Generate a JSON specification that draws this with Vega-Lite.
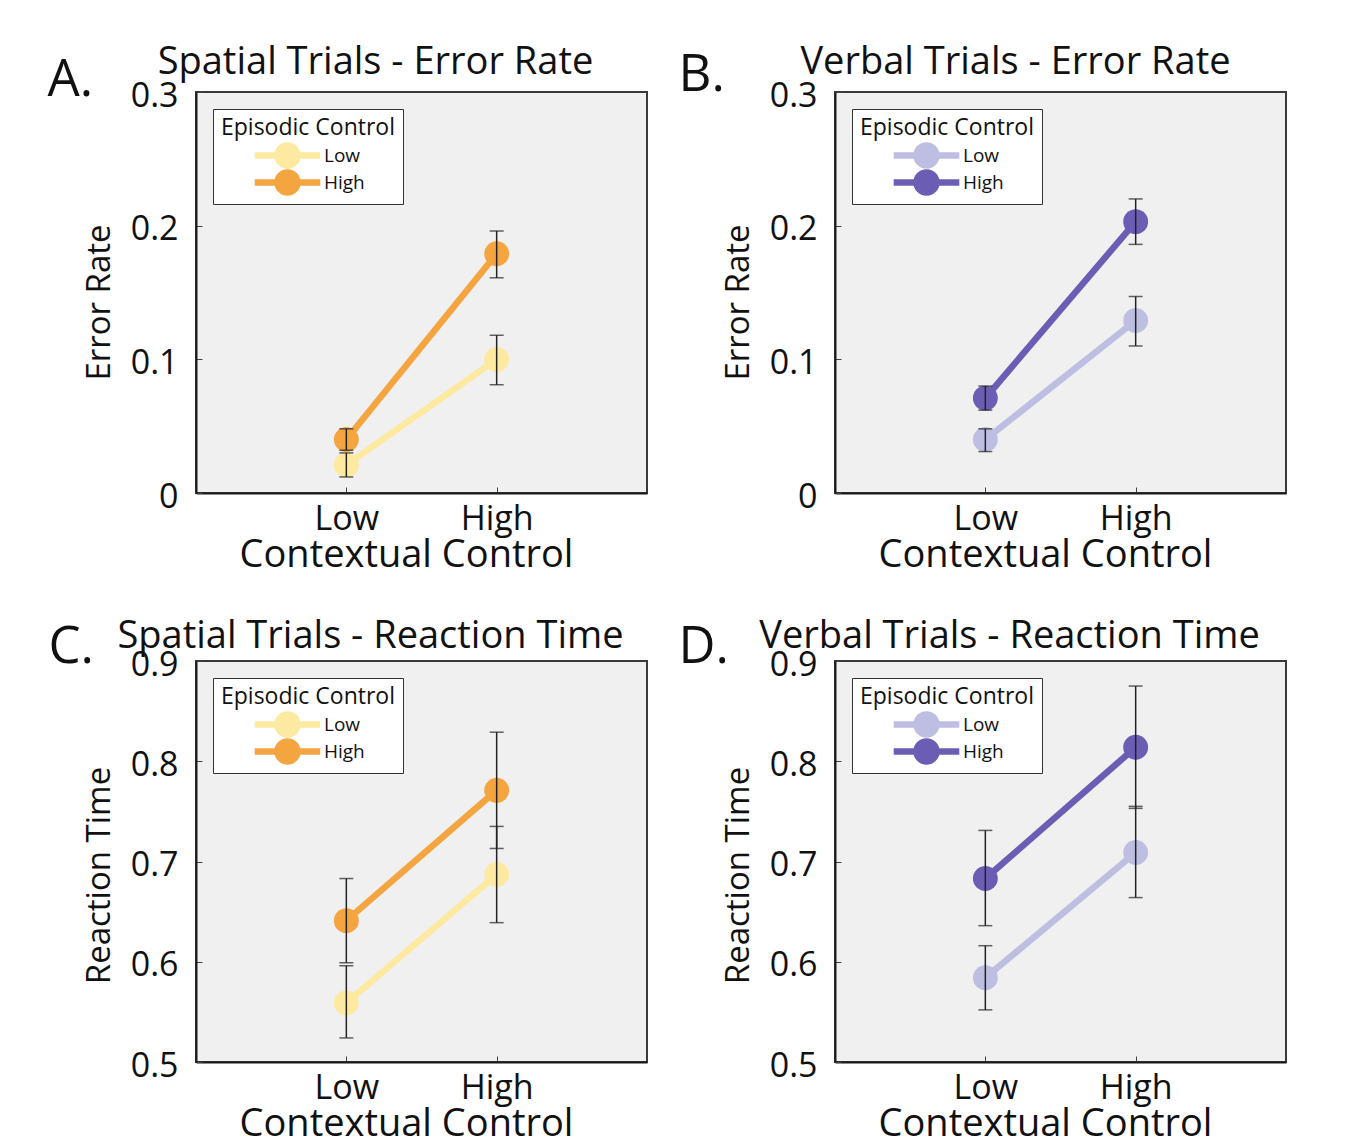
{
  "$schema": "https://vega.github.io/schema/vega-lite/v6.json",
  "background": "white",
  "padding": {"left": 46, "top": 42, "right": 10, "bottom": 5},
  "data": {"values": [
    {"panel": "A", "ctx": "Low", "ep": "Low", "mean": 0.021, "lo": 0.012, "hi": 0.030},
    {"panel": "A", "ctx": "High", "ep": "Low", "mean": 0.100, "lo": 0.081, "hi": 0.118},
    {"panel": "A", "ctx": "Low", "ep": "High", "mean": 0.040, "lo": 0.032, "hi": 0.048},
    {"panel": "A", "ctx": "High", "ep": "High", "mean": 0.179, "lo": 0.161, "hi": 0.196},
    {"panel": "B", "ctx": "Low", "ep": "Low", "mean": 0.040, "lo": 0.031, "hi": 0.048},
    {"panel": "B", "ctx": "High", "ep": "Low", "mean": 0.129, "lo": 0.110, "hi": 0.147},
    {"panel": "B", "ctx": "Low", "ep": "High", "mean": 0.071, "lo": 0.062, "hi": 0.080},
    {"panel": "B", "ctx": "High", "ep": "High", "mean": 0.203, "lo": 0.186, "hi": 0.220},
    {"panel": "C", "ctx": "Low", "ep": "Low", "mean": 0.559, "lo": 0.524, "hi": 0.596},
    {"panel": "C", "ctx": "High", "ep": "Low", "mean": 0.687, "lo": 0.639, "hi": 0.735},
    {"panel": "C", "ctx": "Low", "ep": "High", "mean": 0.641, "lo": 0.599, "hi": 0.683},
    {"panel": "C", "ctx": "High", "ep": "High", "mean": 0.771, "lo": 0.713, "hi": 0.829},
    {"panel": "D", "ctx": "Low", "ep": "Low", "mean": 0.584, "lo": 0.552, "hi": 0.616},
    {"panel": "D", "ctx": "High", "ep": "Low", "mean": 0.709, "lo": 0.664, "hi": 0.755},
    {"panel": "D", "ctx": "Low", "ep": "High", "mean": 0.683, "lo": 0.636, "hi": 0.731},
    {"panel": "D", "ctx": "High", "ep": "High", "mean": 0.814, "lo": 0.753, "hi": 0.875}
  ]},
  "columns": 2,
  "spacing": {"row": 168, "column": 188},
  "bounds": "flush",
  "resolve": {"scale": {"x": "independent", "y": "independent", "color": "independent"}, "legend": {"color": "independent"}},
  "concat": [
    {
      "width": 451, "height": 401,
      "transform": [{"filter": "datum.panel == 'A'"}],
      "resolve": {"axis": {"x": "independent"}},
      "layer": [
        {"mark": {"type": "line", "strokeWidth": 6.5},
         "encoding": {
           "x": {"field": "ctx", "type": "nominal", "sort": ["Low", "High"], "scale": {"type": "point", "padding": 1, "domain": ["Low", "High"]},
                 "axis": {"orient": "bottom", "title": "Contextual Control", "labelAngle": 0, "tickSize": -6, "labelPadding": 15, "titlePadding": 0, "titleFontSize": 38, "titleX": 210}},
           "y": {"field": "mean", "type": "quantitative", "scale": {"domain": [0, 0.3], "nice": false, "zero": false},
                 "axis": {"title": "Error Rate", "values": [0, 0.1, 0.2, 0.3], "labelExpr": "datum.value == 0 ? '0' : format(datum.value, '.1f')", "tickSize": -6, "labelPadding": 24, "labelOffset": 4, "titlePadding": 14, "titleFontSize": 33, "titleY": 210, "labelFlush": false}},
           "color": {"field": "ep", "type": "nominal", "scale": {"domain": ["Low", "High"], "range": ["#fde9a0", "#f5a540"]},
                     "legend": {"title": "Episodic Control", "symbolType": "M-4.1,-0.4H-1.5V0.4H-4.1Z M1.5,-0.4H4.1V0.4H1.5Z M-1.65,0A1.65,1.65 0 1,1 1.65,0A1.65,1.65 0 1,1 -1.65,0Z", "symbolSize": 256}}
         }},
        {"mark": {"type": "circle", "size": 620, "opacity": 1},
         "encoding": {
           "x": {"field": "ctx", "type": "nominal", "sort": ["Low", "High"], "scale": {"type": "point", "padding": 1, "domain": ["Low", "High"]},
                 "axis": {"orient": "top", "title": "Spatial Trials - Error Rate", "labels": false, "ticks": false, "domain": false, "titleFontSize": 38, "titleX": 179, "titleY": -19, "titleAlign": "center", "titleBaseline": "alphabetic"}},
           "y": {"field": "mean", "type": "quantitative", "scale": {"domain": [0, 0.3], "nice": false, "zero": false},
                 "axis": {"title": "Error Rate", "values": [0, 0.1, 0.2, 0.3], "labelExpr": "datum.value == 0 ? '0' : format(datum.value, '.1f')", "tickSize": -6, "labelPadding": 24, "labelOffset": 4, "titlePadding": 14, "titleFontSize": 33, "titleY": 210, "labelFlush": false}},
           "color": {"field": "ep", "type": "nominal", "scale": {"domain": ["Low", "High"], "range": ["#fde9a0", "#f5a540"]},
                     "legend": {"title": "Episodic Control", "symbolType": "M-4.1,-0.4H-1.5V0.4H-4.1Z M1.5,-0.4H4.1V0.4H1.5Z M-1.65,0A1.65,1.65 0 1,1 1.65,0A1.65,1.65 0 1,1 -1.65,0Z", "symbolSize": 256}}
         }},
        {"mark": {"type": "errorbar", "ticks": true, "size": 14, "thickness": 1.5, "color": "#222"},
         "encoding": {
           "x": {"field": "ctx", "type": "nominal", "sort": ["Low", "High"], "scale": {"type": "point", "padding": 1, "domain": ["Low", "High"]},
                 "axis": {"orient": "top", "title": "A.", "labels": false, "ticks": false, "domain": false, "titleFontSize": 51, "titleX": -149, "titleY": 3, "titleAlign": "left", "titleBaseline": "alphabetic"}},
           "y": {"field": "lo", "type": "quantitative", "scale": {"domain": [0, 0.3], "nice": false, "zero": false},
                 "axis": {"title": "Error Rate", "values": [0, 0.1, 0.2, 0.3], "labelExpr": "datum.value == 0 ? '0' : format(datum.value, '.1f')", "tickSize": -6, "labelPadding": 24, "labelOffset": 4, "titlePadding": 14, "titleFontSize": 33, "titleY": 210, "labelFlush": false}},
           "y2": {"field": "hi"}
         }}
      ]
    },
    {
      "width": 451, "height": 401,
      "transform": [{"filter": "datum.panel == 'B'"}],
      "resolve": {"axis": {"x": "independent"}},
      "layer": [
        {"mark": {"type": "line", "strokeWidth": 6.5},
         "encoding": {
           "x": {"field": "ctx", "type": "nominal", "sort": ["Low", "High"], "scale": {"type": "point", "padding": 1, "domain": ["Low", "High"]},
                 "axis": {"orient": "bottom", "title": "Contextual Control", "labelAngle": 0, "tickSize": -6, "labelPadding": 15, "titlePadding": 0, "titleFontSize": 38, "titleX": 210}},
           "y": {"field": "mean", "type": "quantitative", "scale": {"domain": [0, 0.3], "nice": false, "zero": false},
                 "axis": {"title": "Error Rate", "values": [0, 0.1, 0.2, 0.3], "labelExpr": "datum.value == 0 ? '0' : format(datum.value, '.1f')", "tickSize": -6, "labelPadding": 24, "labelOffset": 4, "titlePadding": 14, "titleFontSize": 33, "titleY": 210, "labelFlush": false}},
           "color": {"field": "ep", "type": "nominal", "scale": {"domain": ["Low", "High"], "range": ["#bebee2", "#6b5db3"]},
                     "legend": {"title": "Episodic Control", "symbolType": "M-4.1,-0.4H-1.5V0.4H-4.1Z M1.5,-0.4H4.1V0.4H1.5Z M-1.65,0A1.65,1.65 0 1,1 1.65,0A1.65,1.65 0 1,1 -1.65,0Z", "symbolSize": 256}}
         }},
        {"mark": {"type": "circle", "size": 620, "opacity": 1},
         "encoding": {
           "x": {"field": "ctx", "type": "nominal", "sort": ["Low", "High"], "scale": {"type": "point", "padding": 1, "domain": ["Low", "High"]},
                 "axis": {"orient": "top", "title": "Verbal Trials - Error Rate", "labels": false, "ticks": false, "domain": false, "titleFontSize": 38, "titleX": 180, "titleY": -19, "titleAlign": "center", "titleBaseline": "alphabetic"}},
           "y": {"field": "mean", "type": "quantitative", "scale": {"domain": [0, 0.3], "nice": false, "zero": false},
                 "axis": {"title": "Error Rate", "values": [0, 0.1, 0.2, 0.3], "labelExpr": "datum.value == 0 ? '0' : format(datum.value, '.1f')", "tickSize": -6, "labelPadding": 24, "labelOffset": 4, "titlePadding": 14, "titleFontSize": 33, "titleY": 210, "labelFlush": false}},
           "color": {"field": "ep", "type": "nominal", "scale": {"domain": ["Low", "High"], "range": ["#bebee2", "#6b5db3"]},
                     "legend": {"title": "Episodic Control", "symbolType": "M-4.1,-0.4H-1.5V0.4H-4.1Z M1.5,-0.4H4.1V0.4H1.5Z M-1.65,0A1.65,1.65 0 1,1 1.65,0A1.65,1.65 0 1,1 -1.65,0Z", "symbolSize": 256}}
         }},
        {"mark": {"type": "errorbar", "ticks": true, "size": 14, "thickness": 1.5, "color": "#222"},
         "encoding": {
           "x": {"field": "ctx", "type": "nominal", "sort": ["Low", "High"], "scale": {"type": "point", "padding": 1, "domain": ["Low", "High"]},
                 "axis": {"orient": "top", "title": "B.", "labels": false, "ticks": false, "domain": false, "titleFontSize": 51, "titleX": -157, "titleY": -2, "titleAlign": "left", "titleBaseline": "alphabetic"}},
           "y": {"field": "lo", "type": "quantitative", "scale": {"domain": [0, 0.3], "nice": false, "zero": false},
                 "axis": {"title": "Error Rate", "values": [0, 0.1, 0.2, 0.3], "labelExpr": "datum.value == 0 ? '0' : format(datum.value, '.1f')", "tickSize": -6, "labelPadding": 24, "labelOffset": 4, "titlePadding": 14, "titleFontSize": 33, "titleY": 210, "labelFlush": false}},
           "y2": {"field": "hi"}
         }}
      ]
    },
    {
      "width": 451, "height": 401,
      "transform": [{"filter": "datum.panel == 'C'"}],
      "resolve": {"axis": {"x": "independent"}},
      "layer": [
        {"mark": {"type": "line", "strokeWidth": 6.5},
         "encoding": {
           "x": {"field": "ctx", "type": "nominal", "sort": ["Low", "High"], "scale": {"type": "point", "padding": 1, "domain": ["Low", "High"]},
                 "axis": {"orient": "bottom", "title": "Contextual Control", "labelAngle": 0, "tickSize": -6, "labelPadding": 15, "titlePadding": 0, "titleFontSize": 38, "titleX": 210}},
           "y": {"field": "mean", "type": "quantitative", "scale": {"domain": [0.5, 0.9], "nice": false, "zero": false},
                 "axis": {"title": "Reaction Time", "values": [0.5, 0.6, 0.7, 0.8, 0.9], "labelExpr": "format(datum.value, '.1f')", "tickSize": -6, "labelPadding": 24, "labelOffset": 4, "titlePadding": 14, "titleFontSize": 33, "titleY": 214, "labelFlush": false}},
           "color": {"field": "ep", "type": "nominal", "scale": {"domain": ["Low", "High"], "range": ["#fde9a0", "#f5a540"]},
                     "legend": {"title": "Episodic Control", "symbolType": "M-4.1,-0.4H-1.5V0.4H-4.1Z M1.5,-0.4H4.1V0.4H1.5Z M-1.65,0A1.65,1.65 0 1,1 1.65,0A1.65,1.65 0 1,1 -1.65,0Z", "symbolSize": 256}}
         }},
        {"mark": {"type": "circle", "size": 620, "opacity": 1},
         "encoding": {
           "x": {"field": "ctx", "type": "nominal", "sort": ["Low", "High"], "scale": {"type": "point", "padding": 1, "domain": ["Low", "High"]},
                 "axis": {"orient": "top", "title": "Spatial Trials - Reaction Time", "labels": false, "ticks": false, "domain": false, "titleFontSize": 38, "titleX": 174, "titleY": -14, "titleAlign": "center", "titleBaseline": "alphabetic"}},
           "y": {"field": "mean", "type": "quantitative", "scale": {"domain": [0.5, 0.9], "nice": false, "zero": false},
                 "axis": {"title": "Reaction Time", "values": [0.5, 0.6, 0.7, 0.8, 0.9], "labelExpr": "format(datum.value, '.1f')", "tickSize": -6, "labelPadding": 24, "labelOffset": 4, "titlePadding": 14, "titleFontSize": 33, "titleY": 214, "labelFlush": false}},
           "color": {"field": "ep", "type": "nominal", "scale": {"domain": ["Low", "High"], "range": ["#fde9a0", "#f5a540"]},
                     "legend": {"title": "Episodic Control", "symbolType": "M-4.1,-0.4H-1.5V0.4H-4.1Z M1.5,-0.4H4.1V0.4H1.5Z M-1.65,0A1.65,1.65 0 1,1 1.65,0A1.65,1.65 0 1,1 -1.65,0Z", "symbolSize": 256}}
         }},
        {"mark": {"type": "errorbar", "ticks": true, "size": 14, "thickness": 1.5, "color": "#222"},
         "encoding": {
           "x": {"field": "ctx", "type": "nominal", "sort": ["Low", "High"], "scale": {"type": "point", "padding": 1, "domain": ["Low", "High"]},
                 "axis": {"orient": "top", "title": "C.", "labels": false, "ticks": false, "domain": false, "titleFontSize": 51, "titleX": -148, "titleY": 1, "titleAlign": "left", "titleBaseline": "alphabetic"}},
           "y": {"field": "lo", "type": "quantitative", "scale": {"domain": [0.5, 0.9], "nice": false, "zero": false},
                 "axis": {"title": "Reaction Time", "values": [0.5, 0.6, 0.7, 0.8, 0.9], "labelExpr": "format(datum.value, '.1f')", "tickSize": -6, "labelPadding": 24, "labelOffset": 4, "titlePadding": 14, "titleFontSize": 33, "titleY": 214, "labelFlush": false}},
           "y2": {"field": "hi"}
         }}
      ]
    },
    {
      "width": 451, "height": 401,
      "transform": [{"filter": "datum.panel == 'D'"}],
      "resolve": {"axis": {"x": "independent"}},
      "layer": [
        {"mark": {"type": "line", "strokeWidth": 6.5},
         "encoding": {
           "x": {"field": "ctx", "type": "nominal", "sort": ["Low", "High"], "scale": {"type": "point", "padding": 1, "domain": ["Low", "High"]},
                 "axis": {"orient": "bottom", "title": "Contextual Control", "labelAngle": 0, "tickSize": -6, "labelPadding": 15, "titlePadding": 0, "titleFontSize": 38, "titleX": 210}},
           "y": {"field": "mean", "type": "quantitative", "scale": {"domain": [0.5, 0.9], "nice": false, "zero": false},
                 "axis": {"title": "Reaction Time", "values": [0.5, 0.6, 0.7, 0.8, 0.9], "labelExpr": "format(datum.value, '.1f')", "tickSize": -6, "labelPadding": 24, "labelOffset": 4, "titlePadding": 14, "titleFontSize": 33, "titleY": 214, "labelFlush": false}},
           "color": {"field": "ep", "type": "nominal", "scale": {"domain": ["Low", "High"], "range": ["#bebee2", "#6b5db3"]},
                     "legend": {"title": "Episodic Control", "symbolType": "M-4.1,-0.4H-1.5V0.4H-4.1Z M1.5,-0.4H4.1V0.4H1.5Z M-1.65,0A1.65,1.65 0 1,1 1.65,0A1.65,1.65 0 1,1 -1.65,0Z", "symbolSize": 256}}
         }},
        {"mark": {"type": "circle", "size": 620, "opacity": 1},
         "encoding": {
           "x": {"field": "ctx", "type": "nominal", "sort": ["Low", "High"], "scale": {"type": "point", "padding": 1, "domain": ["Low", "High"]},
                 "axis": {"orient": "top", "title": "Verbal Trials - Reaction Time", "labels": false, "ticks": false, "domain": false, "titleFontSize": 38, "titleX": 174, "titleY": -14, "titleAlign": "center", "titleBaseline": "alphabetic"}},
           "y": {"field": "mean", "type": "quantitative", "scale": {"domain": [0.5, 0.9], "nice": false, "zero": false},
                 "axis": {"title": "Reaction Time", "values": [0.5, 0.6, 0.7, 0.8, 0.9], "labelExpr": "format(datum.value, '.1f')", "tickSize": -6, "labelPadding": 24, "labelOffset": 4, "titlePadding": 14, "titleFontSize": 33, "titleY": 214, "labelFlush": false}},
           "color": {"field": "ep", "type": "nominal", "scale": {"domain": ["Low", "High"], "range": ["#bebee2", "#6b5db3"]},
                     "legend": {"title": "Episodic Control", "symbolType": "M-4.1,-0.4H-1.5V0.4H-4.1Z M1.5,-0.4H4.1V0.4H1.5Z M-1.65,0A1.65,1.65 0 1,1 1.65,0A1.65,1.65 0 1,1 -1.65,0Z", "symbolSize": 256}}
         }},
        {"mark": {"type": "errorbar", "ticks": true, "size": 14, "thickness": 1.5, "color": "#222"},
         "encoding": {
           "x": {"field": "ctx", "type": "nominal", "sort": ["Low", "High"], "scale": {"type": "point", "padding": 1, "domain": ["Low", "High"]},
                 "axis": {"orient": "top", "title": "D.", "labels": false, "ticks": false, "domain": false, "titleFontSize": 51, "titleX": -157, "titleY": 1, "titleAlign": "left", "titleBaseline": "alphabetic"}},
           "y": {"field": "lo", "type": "quantitative", "scale": {"domain": [0.5, 0.9], "nice": false, "zero": false},
                 "axis": {"title": "Reaction Time", "values": [0.5, 0.6, 0.7, 0.8, 0.9], "labelExpr": "format(datum.value, '.1f')", "tickSize": -6, "labelPadding": 24, "labelOffset": 4, "titlePadding": 14, "titleFontSize": 33, "titleY": 214, "labelFlush": false}},
           "y2": {"field": "hi"}
         }}
      ]
    }
  ],
  "config": {
    "font": "Open Sans",
    "view": {"stroke": "#3a3a3a", "strokeWidth": 2, "fill": "#f0f0f0"},
    "axis": {"grid": false, "domainColor": "#1a1a1a", "domainWidth": 2, "tickColor": "#444", "tickWidth": 1, "labelFont": "Open Sans", "titleFont": "Open Sans", "labelColor": "#111", "titleColor": "#111", "titleFontWeight": "normal", "labelFontSize": 34},
    "legend": {
      "orient": "top-left", "offset": 17,
      "titleFont": "Open Sans", "titleFontSize": 23, "titleFontWeight": "normal", "titleColor": "#111", "titlePadding": 6,
      "labelFont": "Open Sans", "labelFontSize": 19, "labelColor": "#111", "labelOffset": 27,
      "symbolStrokeWidth": 0, "symbolOffset": 57,
      "fillColor": "white", "strokeColor": "#333", "padding": 8, "rowPadding": 0, "cornerRadius": 0
    }
  }
}
